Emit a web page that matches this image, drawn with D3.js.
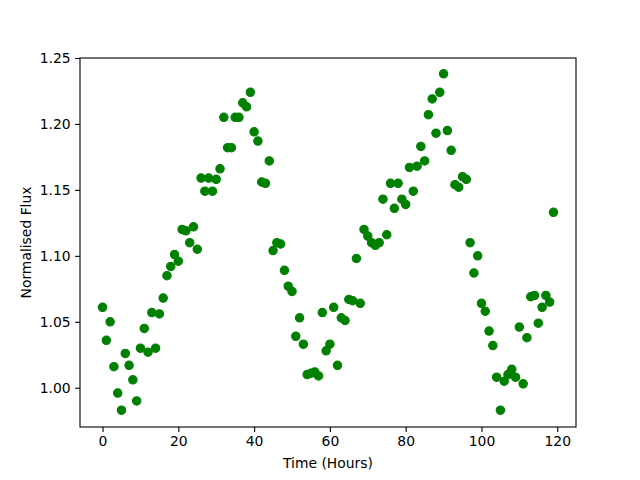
<!DOCTYPE html>
<html>
<head>
<meta charset="utf-8">
<script src="https://cdn.jsdelivr.net/npm/d3@7"></script>
<style>
  body { margin: 0; background: #fff; }
  text { font-family: "DejaVu Sans", sans-serif; }
</style>
</head>
<body>
<div id="chart"></div>
<script>
// hours 0..119, one reading per hour
var hours = d3.range(0, 120);

var flux = [
  1.061, 1.036, 1.050, 1.016, 0.996, 0.983, 1.026, 1.017, 1.006, 0.990,
  1.030, 1.045, 1.027, 1.057, 1.030, 1.056, 1.068, 1.085, 1.092, 1.101,
  1.096, 1.120, 1.119, 1.110, 1.122, 1.105, 1.159, 1.149, 1.159, 1.149,
  1.158, 1.166, 1.205, 1.182, 1.182, 1.205, 1.205, 1.216, 1.213, 1.224,
  1.194, 1.187, 1.156, 1.155, 1.172, 1.104, 1.110, 1.109, 1.089, 1.077,
  1.073, 1.039, 1.053, 1.033, 1.010, 1.011, 1.012, 1.009, 1.057, 1.028,
  1.033, 1.061, 1.017, 1.053, 1.051, 1.067, 1.066, 1.098, 1.064, 1.120,
  1.115, 1.110, 1.108, 1.110, 1.143, 1.116, 1.155, 1.136, 1.155, 1.143,
  1.139, 1.167, 1.149, 1.168, 1.183, 1.172, 1.207, 1.219, 1.193, 1.224,
  1.238, 1.195, 1.180, 1.154, 1.152, 1.160, 1.158, 1.110, 1.087, 1.100,
  1.064, 1.058, 1.043, 1.032, 1.008, 0.983, 1.005, 1.010, 1.014, 1.008,
  1.046, 1.003, 1.038, 1.069, 1.070, 1.049, 1.061, 1.070, 1.065, 1.133
];

var xTicks = [0, 20, 40, 60, 80, 100, 120];
var yTicks = [1.00, 1.05, 1.10, 1.15, 1.20, 1.25];

var width = 640,
  height = 480;
var margin = {top: 58, right: 64, bottom: 53, left: 80};
var innerW = width - margin.left - margin.right,
  innerH = height - margin.top - margin.bottom;

var svg = d3.select("#chart")
  .append("svg")
  .attr("width", width)
  .attr("height", height);

var g = svg.append("g")
  .attr("transform", "translate(" + margin.left + "," + margin.top + ")");

// matplotlib style 5% margins
var xPad = (d3.max(hours) - d3.min(hours)) * 0.05;
var yPad = (d3.max(flux) - d3.min(flux)) * 0.05;

var x = d3.scaleLinear()
  .domain([d3.min(hours) - xPad, d3.max(hours) + xPad])
  .range([0, innerW]);

var y = d3.scaleLinear()
  .domain([d3.min(flux) - yPad, 1.25])
  .range([innerH, 0]);

var xAxis = d3.axisBottom(x)
  .tickValues(xTicks)
  .tickSizeInner(4.9)
  .tickSizeOuter(0)
  .tickPadding(4.5)
  .tickFormat(d3.format("d"));

var yAxis = d3.axisLeft(y)
  .tickValues(yTicks)
  .tickSizeInner(4.9)
  .tickSizeOuter(0)
  .tickPadding(4.5)
  .tickFormat(d3.format(".2f"));

var gx = g.append("g")
  .attr("transform", "translate(0," + innerH + ")")
  .call(xAxis);

var gy = g.append("g")
  .call(yAxis);

[gx, gy].forEach(function(a) {
  a.select(".domain").remove();
  a.selectAll(".tick line").attr("stroke", "#000").attr("stroke-width", 1.1);
  a.selectAll(".tick text")
    .attr("fill", "#000")
    .style("font-size", "13.9px")
    .style("font-family", "DejaVu Sans");
});

// points
g.selectAll(".pt")
  .data(hours)
  .enter().append("circle")
  .attr("class", "pt")
  .attr("cx", function(d) { return x(d); })
  .attr("cy", function(d, i) { return y(flux[i]); })
  .attr("r", 4.2)
  .attr("fill", "#008000")
  .attr("stroke", "#008000")
  .attr("stroke-width", 1.1);

// frame
g.append("rect")
  .attr("width", innerW)
  .attr("height", innerH)
  .attr("fill", "none")
  .attr("stroke", "#000")
  .attr("stroke-width", 1.1);

// axis labels
svg.append("text")
  .attr("x", margin.left + innerW / 2)
  .attr("y", 468)
  .attr("text-anchor", "middle")
  .style("font-size", "13.9px")
  .text("Time (Hours)");

svg.append("text")
  .attr("transform", "translate(31," + (margin.top + innerH / 2) + ") rotate(-90)")
  .attr("text-anchor", "middle")
  .style("font-size", "13.9px")
  .text("Normalised Flux");
</script>
</body>
</html>
